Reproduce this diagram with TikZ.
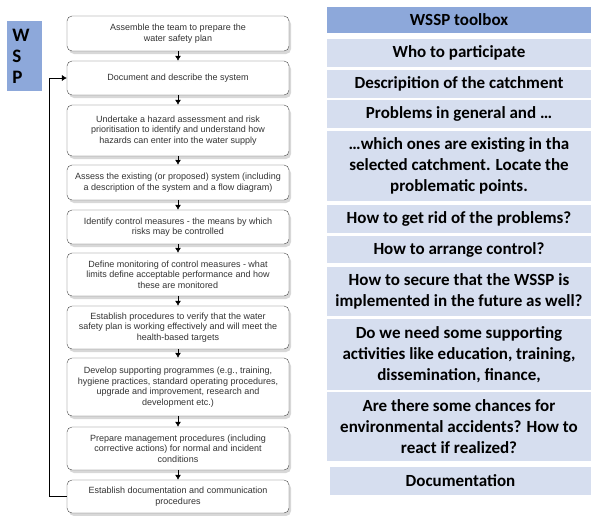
\documentclass[tikz,border=0pt]{standalone}
\usepackage{fontspec}
\setmainfont{Liberation Sans}
\newfontfamily\toolfont{Carlito}
\usetikzlibrary{shadows, arrows.meta}
\definecolor{wspblue}{HTML}{8DA8DA}
\definecolor{rowblue}{HTML}{D6DEEF}
\definecolor{boxline}{HTML}{4A4A4A}

\tikzset{
	stepbox/.style={draw=boxline, rounded corners=5pt, fill=white, minimum width=222pt, align=center, text=black!80, font=\fontsize{9}{10.6}\selectfont, inner sep=2pt, drop shadow={shadow xshift=2pt, shadow yshift=-3pt, fill=black!30}},
	toolrow/.style={fill=rowblue, minimum width=264pt, align=center, inner sep=1pt, font=\toolfont\bfseries\fontsize{17}{21}\selectfont},
	flow/.style={-{Latex[length=5pt,width=6pt]}, semithick}
}

\begin{document}
\begin{tikzpicture}[x=1pt, y=-1pt]
	\useasboundingbox (0,0) rectangle (591,515);
	% WSP label
	\node[fill=wspblue, minimum width=35pt, minimum height=70pt, text width=24pt, align=left, inner sep=0pt, font=\toolfont\bfseries\fontsize{19}{21}\selectfont] (wsp) at (24.5,56) {W\\S\\P};
	% Steps of the plan
	\node[stepbox, minimum height=35pt] (team) at (178,33.5) {Assemble the team to prepare the\\water safety plan};
	\node[stepbox, minimum height=34pt] (system) at (178,78) {Document and describe the system};
	\node[stepbox, minimum height=51pt] (hazard) at (178,130.5) {Undertake a hazard assessment and risk\\prioritisation to identify and understand how\\hazards can enter into the water supply};
	\node[stepbox, minimum height=35pt] (assess) at (178,182.5) {Assess the existing (or proposed) system (including\\a description of the system and a flow diagram)};
	\node[stepbox, minimum height=34pt] (control) at (178,227) {Identify control measures - the means by which\\risks may be controlled};
	\node[stepbox, minimum height=43pt] (monitor) at (178,274.5) {Define monitoring of control measures - what\\limits define acceptable performance and how\\these are monitored};
	\node[stepbox, minimum height=43pt] (verify) at (178,327.5) {Establish procedures to verify that the water\\safety plan is working effectively and will meet the\\health-based targets};
	\node[stepbox, minimum height=58pt] (support) at (178,387) {Develop supporting programmes (e.g., training,\\hygiene practices, standard operating procedures,\\upgrade and improvement, research and\\development etc.)};
	\node[stepbox, minimum height=43pt] (manage) at (178,448.5) {Prepare management procedures (including\\corrective actions) for normal and incident\\conditions};
	\node[stepbox, minimum height=33pt] (docs) at (178,496.5) {Establish documentation and communication\\procedures};
	% Arrows
	\draw[flow] (team.south) -- (system.north);
	\draw[flow] (system.south) -- (hazard.north);
	\draw[flow] (hazard.south) -- (assess.north);
	\draw[flow] (assess.south) -- (control.north);
	\draw[flow] (control.south) -- (monitor.north);
	\draw[flow] (monitor.south) -- (verify.north);
	\draw[flow] (verify.south) -- (support.north);
	\draw[flow] (support.south) -- (manage.north);
	\draw[flow] (manage.south) -- (docs.north);
	\draw[flow, thin] (docs.west) -- ++(-18,0) |- (system.west);
	% Toolbox
	\node[toolrow, fill=wspblue, minimum height=26pt] (head) at (459,20) {WSSP toolbox};
	\node[toolrow, minimum height=28pt] (who) at (459,53) {Who to participate};
	\node[toolrow, minimum height=28pt] (catch) at (459,84) {Descripition of the catchment};
	\node[toolrow, minimum height=28pt] (probs) at (459,114) {Problems in general and …};
	\node[toolrow, minimum height=70pt] (which) at (459,166) {…which ones are existing in tha\\selected catchment. Locate the\\problematic points.};
	\node[toolrow, minimum height=28pt] (rid) at (459,219) {How to get rid of the problems?};
	\node[toolrow, minimum height=27pt] (arrange) at (459,249.5) {How to arrange control?};
	\node[toolrow, minimum height=49pt] (secure) at (459,291.5) {How to secure that the WSSP is\\implemented in the future as well?};
	\node[toolrow, minimum height=71pt] (need) at (459,354.5) {Do we need some supporting\\activities like education, training,\\dissemination, finance,};
	\node[toolrow, minimum height=69pt] (env) at (459,426.5) {Are there some chances for\\environmental accidents? How to\\react if realized?};
	\node[toolrow, minimum width=261pt, minimum height=28pt] (doc) at (460.5,481) {Documentation};
\end{tikzpicture}
\end{document}
